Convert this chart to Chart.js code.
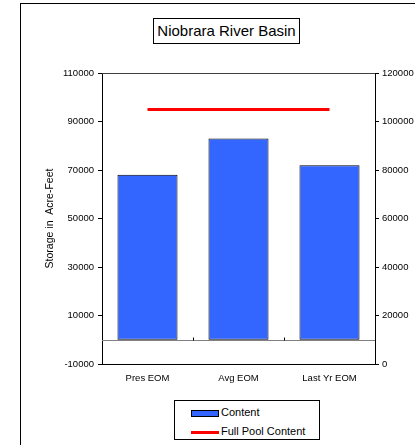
<!DOCTYPE html>
<html>
<head>
<meta charset="utf-8">
<script src="https://cdn.jsdelivr.net/npm/chart.js@4"></script>
<style>
  html, body { margin:0; padding:0; background:#fff; }
  body { width:415px; height:445px; position:relative; overflow:hidden; font-family:"Liberation Sans", Arial, sans-serif; }
  #wrap { position:absolute; left:0; top:0; width:415px; height:445px; }
  #frame { position:absolute; left:20px; top:3px; width:420px; height:460px; border:1px solid #000; box-sizing:border-box; pointer-events:none; }
  #title { position:absolute; left:153px; top:18px; width:147px; height:26px; border:1px solid #000; box-sizing:border-box; font-size:15px; line-height:24px; text-align:center; color:#000; background:#fff; white-space:nowrap; }
  #legend { position:absolute; left:174px; top:400px; width:146px; height:40px; border:1px solid #000; box-sizing:border-box; background:#fff; font-size:11px; color:#000; }
  .li { position:absolute; left:16px; height:14px; line-height:14px; white-space:nowrap; }
  .sw { display:inline-block; vertical-align:middle; width:28px; margin-right:2px; box-sizing:border-box; }
</style>
</head>
<body>
<div id="wrap"><canvas id="c" width="415" height="445"></canvas></div>
<div id="frame"></div>
<div id="title">Niobrara River Basin</div>
<div id="legend"></div>
<script>
const categories = ['Pres EOM', 'Avg EOM', 'Last Yr EOM'];
const contentValues = [68000, 83000, 72000];
const fullPoolValues = [95000, 95000, 95000];
const leftTicks = [-10000, 10000, 30000, 50000, 70000, 90000, 110000];
const rightTicks = [0, 20000, 40000, 60000, 80000, 100000, 120000];
const seriesNames = ['Content', 'Full Pool Content'];

const FONT = '"Liberation Sans", Arial, sans-serif';
const BLUE = '#3366FF';
const RED = '#FF0000';

const decor = {
  id: 'decor',
  beforeDatasetsDraw(chart) {
    const {ctx, chartArea: a, scales} = chart;
    ctx.save();
    // top border of plot area
    ctx.strokeStyle = '#404040';
    ctx.lineWidth = 1;
    ctx.beginPath();
    ctx.moveTo(a.left, a.top + 0.5);
    ctx.lineTo(a.right, a.top + 0.5);
    ctx.stroke();
    // zero line
    const y0 = Math.round(scales.y.getPixelForValue(0)) + 0.5;
    ctx.strokeStyle = '#808080';
    ctx.beginPath();
    ctx.moveTo(a.left, y0);
    ctx.lineTo(a.right, y0);
    ctx.stroke();
    // category ticks on zero line
    ctx.strokeStyle = '#000';
    const n = categories.length;
    for (let i = 1; i < n; i++) {
      const x = Math.round((scales.x.getPixelForValue(i - 1) + scales.x.getPixelForValue(i)) / 2) + 0.5;
      ctx.beginPath();
      ctx.moveTo(x, y0);
      ctx.lineTo(x, y0 - 3);
      ctx.stroke();
    }
    ctx.restore();
  }
};

const chart = new Chart(document.getElementById('c'), {
  data: {
    labels: categories,
    datasets: [
      {
        type: 'line',
        label: seriesNames[1],
        data: fullPoolValues,
        yAxisID: 'y',
        borderColor: RED,
        backgroundColor: RED,
        borderWidth: 3,
        pointRadius: 0,
        fill: false,
        order: 0
      },
      {
        type: 'bar',
        label: seriesNames[0],
        data: contentValues,
        yAxisID: 'y',
        backgroundColor: BLUE,
        borderColor: '#000',
        borderWidth: 1,
        borderSkipped: false,
        categoryPercentage: 1,
        barPercentage: 0.66,
        order: 1
      }
    ]
  },
  options: {
    responsive: false,
    animation: false,
    devicePixelRatio: 1,
    layout: { padding: { left: 38, top: 73, right: 0, bottom: 51 } },
    plugins: { legend: { display: false }, title: { display: false }, tooltip: { enabled: false } },
    scales: {
      x: {
        type: 'category',
        grid: { display: true, drawOnChartArea: false, drawTicks: false },
        border: { display: true, color: '#000', width: 1 },
        ticks: { color: '#000', padding: 9, font: { family: FONT, size: 9.5 }, maxRotation: 0 },
        afterFit(s) { s.height = 30; }
      },
      y: {
        position: 'left',
        min: leftTicks[0],
        max: leftTicks[leftTicks.length - 1],
        afterBuildTicks(s) { s.ticks = leftTicks.map(v => ({ value: v })); },
        grid: { display: true, drawOnChartArea: false, drawTicks: true, tickLength: 4, color: '#000' },
        border: { display: true, color: '#000', width: 1 },
        ticks: { color: '#000', padding: 4, font: { family: FONT, size: 9.5 }, callback: v => String(v) },
        title: { display: true, text: 'Storage in  Acre-Feet', color: '#000', font: { family: FONT, size: 10.5 }, padding: { top: 6, bottom: 0 } },
        afterFit(s) { s.width = 64; }
      },
      y2: {
        position: 'right',
        min: rightTicks[0],
        max: rightTicks[rightTicks.length - 1],
        afterBuildTicks(s) { s.ticks = rightTicks.map(v => ({ value: v })); },
        grid: { display: true, drawOnChartArea: false, drawTicks: true, tickLength: 4, color: '#000' },
        border: { display: true, color: '#000', width: 1 },
        ticks: { color: '#000', padding: 3, font: { family: FONT, size: 9.5 }, callback: v => String(v) },
        afterFit(s) { s.width = 40; }
      }
    }
  },
  plugins: [decor]
});

// HTML legend built from the datasets
const legend = document.getElementById('legend');
const items = [
  { name: seriesNames[0], kind: 'box', color: BLUE, top: 4 },
  { name: seriesNames[1], kind: 'line', color: RED, top: 23 }
];
items.forEach(it => {
  const d = document.createElement('div');
  d.className = 'li';
  d.style.top = it.top + 'px';
  const sw = document.createElement('span');
  sw.className = 'sw';
  if (it.kind === 'box') {
    sw.style.height = '7px';
    sw.style.background = it.color;
    sw.style.border = '1px solid #000';
  } else {
    sw.style.height = '3px';
    sw.style.background = it.color;
  }
  d.appendChild(sw);
  d.appendChild(document.createTextNode(it.name));
  legend.appendChild(d);
});
</script>
</body>
</html>
